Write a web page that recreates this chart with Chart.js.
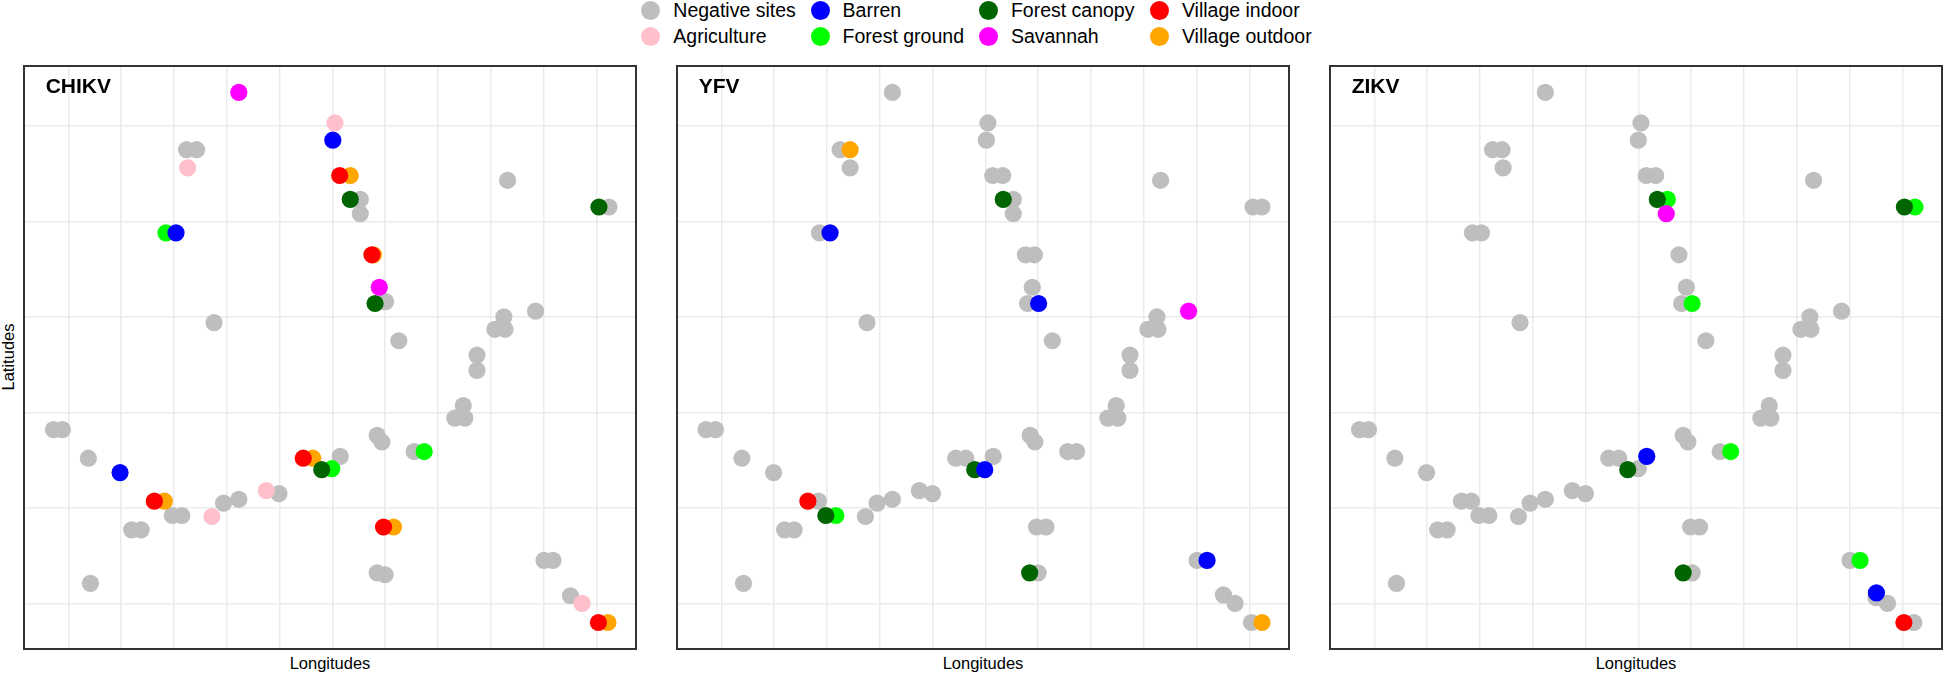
<!DOCTYPE html>
<html>
<head>
<meta charset="utf-8">
<script src="https://cdn.jsdelivr.net/npm/chart.js@4.4.1/dist/chart.umd.min.js"></script>
<style>
  html, body { margin: 0; padding: 0; background: #ffffff; }
  body { width: 1944px; height: 673px; position: relative; overflow: hidden;
         font-family: "Liberation Sans", Arial, Helvetica, sans-serif; color: #000; }
  .panel { position: absolute; box-sizing: border-box; border: 2px solid #333333; background: #fff; }
  .panel canvas { position: absolute; left: 0; top: 0; }
  .ptitle { position: absolute; font-weight: bold; font-size: 21px; line-height: 24px; color: #000; }
  .xtitle { position: absolute; font-size: 16.5px; line-height: 20px; text-align: center; width: 200px; }
  .ytitle { position: absolute; font-size: 16.5px; line-height: 20px; text-align: center; width: 200px;
            transform: rotate(-90deg); transform-origin: center center; }
  .lg-dot { position: absolute; width: 19px; height: 19px; border-radius: 50%; }
  .lg-txt { position: absolute; font-size: 19.5px; line-height: 24px; white-space: nowrap; }
</style>
</head>
<body>
<script>
// ---------------- DATA (grid units: longitude / latitude positions) ----------------
const panelNames = ["CHIKV", "YFV", "ZIKV"];
const categories = ["Negative sites", "Agriculture", "Barren", "Forest ground",
                    "Forest canopy", "Savannah", "Village indoor", "Village outdoor"];
const categoryColors = ["#BEBEBE", "#FFC0CB", "#0000FF", "#00FF00",
                        "#006400", "#FF00FF", "#FF0000", "#FFA500"];
const xGridValues = [0, 1, 2, 3, 4, 5, 6, 7, 8, 9, 10];
const yGridValues = [0, 1, 2, 3, 4, 5];

// CHIKV
const chikvNegative = [[2.24,4.75],[2.43,4.75],[5.53,4.23],[5.53,4.08],[8.32,4.43],[10.24,4.15],
  [6.01,3.16],[6.26,2.75],[2.76,2.94],[8.25,3.00],[8.08,2.87],[8.27,2.87],[8.85,3.06],
  [7.74,2.60],[7.74,2.44],[7.48,2.07],[7.32,1.94],[7.51,1.94],[5.85,1.76],[5.94,1.69],
  [6.55,1.59],[5.15,1.54],[-0.28,1.82],[-0.11,1.82],[0.38,1.52],[1.97,0.92],[2.15,0.92],
  [1.20,0.77],[1.38,0.77],[2.94,1.05],[3.23,1.09],[3.99,1.15],[0.42,0.21],[5.85,0.32],
  [6.00,0.30],[9.01,0.45],[9.18,0.45],[9.51,0.08]];
const chikvAgriculture = [[5.05,5.03],[2.26,4.56],[2.72,0.91],[3.75,1.18],[9.73,0.00]];
const chikvBarren = [[5.01,4.85],[2.04,3.88],[0.98,1.37]];
const chikvForestGround = [[1.85,3.88],[6.74,1.59],[4.99,1.41]];
const chikvForestCanopy = [[5.34,4.23],[10.05,4.15],[5.81,3.14],[4.80,1.40]];
const chikvSavannah = [[3.23,5.35],[5.89,3.31]];
const chikvVillageIndoor = [[5.14,4.48],[5.75,3.65],[4.45,1.52],[1.63,1.07],[5.97,0.80],[10.04,-0.20]];
const chikvVillageOutdoor = [[5.34,4.48],[5.78,3.65],[4.63,1.52],[1.82,1.07],[6.16,0.80],[10.22,-0.20]];

// YFV
const yfvNegative = [[3.24,5.35],[5.05,5.03],[5.02,4.85],[2.25,4.75],[2.44,4.56],[1.86,3.88],
  [5.14,4.48],[5.33,4.48],[5.53,4.23],[5.53,4.08],[5.76,3.65],[5.93,3.65],[5.89,3.31],
  [5.80,3.14],[6.27,2.75],[2.76,2.94],[8.32,4.43],[10.07,4.15],[10.24,4.15],[8.25,3.00],
  [8.08,2.87],[8.27,2.87],[7.74,2.60],[7.74,2.44],[7.48,2.07],[7.32,1.94],[7.51,1.94],
  [5.85,1.76],[5.94,1.69],[6.56,1.59],[6.73,1.59],[5.15,1.54],[-0.29,1.82],[-0.11,1.82],
  [0.39,1.52],[0.99,1.37],[1.84,1.07],[1.20,0.77],[1.38,0.77],[0.42,0.21],[2.73,0.91],
  [2.95,1.05],[3.24,1.09],[3.75,1.18],[4.00,1.15],[4.44,1.52],[4.63,1.52],[5.97,0.80],
  [6.15,0.80],[6.00,0.32],[9.01,0.45],[9.51,0.09],[9.73,0.00],[10.04,-0.20]];
const yfvAgriculture = [];
const yfvBarren = [[2.06,3.88],[6.01,3.14],[4.99,1.40],[9.20,0.45]];
const yfvForestGround = [[2.17,0.92]];
const yfvForestCanopy = [[5.34,4.23],[1.98,0.92],[4.80,1.40],[5.84,0.32]];
const yfvSavannah = [[8.85,3.06]];
const yfvVillageIndoor = [[1.64,1.07]];
const yfvVillageOutdoor = [[2.44,4.75],[10.24,-0.20]];

// ZIKV
const zikvNegative = [[3.24,5.35],[5.05,5.03],[5.00,4.85],[2.24,4.75],[2.42,4.75],[2.44,4.56],
  [1.86,3.88],[2.03,3.88],[2.76,2.94],[-0.28,1.82],[-0.11,1.82],[0.39,1.52],[0.99,1.37],
  [1.65,1.07],[1.84,1.07],[1.98,0.92],[2.17,0.92],[1.20,0.77],[1.38,0.77],[0.42,0.21],
  [2.73,0.91],[2.95,1.05],[3.24,1.09],[3.75,1.18],[4.00,1.15],[4.44,1.52],[4.63,1.52],
  [5.00,1.41],[5.15,4.48],[5.33,4.48],[8.32,4.43],[5.77,3.65],[5.91,3.31],[5.82,3.14],
  [6.28,2.75],[8.25,3.00],[8.08,2.87],[8.27,2.87],[8.85,3.06],[7.74,2.60],[7.74,2.44],
  [7.48,2.07],[7.32,1.94],[7.51,1.94],[5.85,1.76],[5.94,1.69],[6.55,1.59],[5.99,0.80],
  [6.16,0.80],[6.02,0.32],[9.01,0.45],[9.50,0.06],[9.72,0.00],[10.22,-0.20]];
const zikvAgriculture = [];
const zikvBarren = [[5.16,1.54],[9.51,0.11]];
const zikvForestGround = [[5.55,4.23],[10.24,4.15],[6.02,3.14],[6.75,1.59],[9.20,0.45]];
const zikvForestCanopy = [[5.36,4.23],[10.04,4.15],[4.80,1.40],[5.85,0.32]];
const zikvSavannah = [[5.53,4.08]];
const zikvVillageIndoor = [[10.03,-0.20]];
const zikvVillageOutdoor = [];

const panelSeries = [
  [chikvNegative, chikvAgriculture, chikvBarren, chikvForestGround, chikvForestCanopy, chikvSavannah, chikvVillageIndoor, chikvVillageOutdoor],
  [yfvNegative, yfvAgriculture, yfvBarren, yfvForestGround, yfvForestCanopy, yfvSavannah, yfvVillageIndoor, yfvVillageOutdoor],
  [zikvNegative, zikvAgriculture, zikvBarren, zikvForestGround, zikvForestCanopy, zikvSavannah, zikvVillageIndoor, zikvVillageOutdoor]
];

// ---------------- LAYOUT / STYLE ----------------
const X_MIN = -0.82, X_MAX = 10.733, Y_MIN = -0.467, Y_MAX = 5.616;
const PANEL_LEFT0 = 23, PANEL_STEP = 653, PANEL_TOP = 65, PANEL_W = 614, PANEL_H = 585, BORDER = 2;
// draw order: larger = further below
const drawOrder = [10, 9, 5, 7, 6, 3, 4, 8];
const legendColumns = [650.7, 820, 988.3, 1159.3];
const legendRows = [10, 36];
// legend in ggplot column-major order
const legendOrder = [0, 1, 2, 3, 4, 5, 6, 7];

// ---------------- LEGEND ----------------
legendOrder.forEach((ci, k) => {
  const col = Math.floor(k / 2), row = k % 2;
  const cx = legendColumns[col], cy = legendRows[row];
  const dot = document.createElement('div');
  dot.className = 'lg-dot';
  dot.style.left = (cx - 9.5) + 'px';
  dot.style.top = (cy - 9.5) + 'px';
  dot.style.background = categoryColors[ci];
  document.body.appendChild(dot);
  const t = document.createElement('div');
  t.className = 'lg-txt';
  t.style.left = (cx + 22.6) + 'px';
  t.style.top = (cy - 12) + 'px';
  t.textContent = categories[ci];
  document.body.appendChild(t);
});

// ---------------- Y TITLE ----------------
const yt = document.createElement('div');
yt.className = 'ytitle';
yt.textContent = 'Latitudes';
yt.style.left = (7.5 - 100) + 'px';
yt.style.top = (357 - 10) + 'px';
document.body.appendChild(yt);

// ---------------- PANELS ----------------
panelNames.forEach((name, p) => {
  const left = PANEL_LEFT0 + p * PANEL_STEP;
  const div = document.createElement('div');
  div.className = 'panel';
  div.style.left = left + 'px';
  div.style.top = PANEL_TOP + 'px';
  div.style.width = PANEL_W + 'px';
  div.style.height = PANEL_H + 'px';
  document.body.appendChild(div);

  const cw = PANEL_W - 2 * BORDER, ch = PANEL_H - 2 * BORDER;
  const canvas = document.createElement('canvas');
  canvas.width = cw; canvas.height = ch;
  canvas.style.width = cw + 'px'; canvas.style.height = ch + 'px';
  div.appendChild(canvas);

  const title = document.createElement('div');
  title.className = 'ptitle';
  title.textContent = name;
  title.style.left = (left + 22.7) + 'px';
  title.style.top = (86 - 12) + 'px';
  document.body.appendChild(title);

  const xt = document.createElement('div');
  xt.className = 'xtitle';
  xt.textContent = 'Longitudes';
  xt.style.left = (left + PANEL_W / 2 - 100) + 'px';
  xt.style.top = (663 - 10) + 'px';
  document.body.appendChild(xt);

  const datasets = categories.map((cat, ci) => ({
    label: cat,
    data: panelSeries[p][ci].map(([x, y]) => ({ x, y })),
    backgroundColor: categoryColors[ci],
    borderWidth: 0,
    pointRadius: 8.6,
    pointHoverRadius: 8.6,
    order: drawOrder[ci]
  }));

  new Chart(canvas, {
    type: 'scatter',
    data: { datasets },
    options: {
      responsive: false,
      animation: false,
      events: [],
      layout: { padding: 0, autoPadding: false },
      plugins: { legend: { display: false }, tooltip: { enabled: false } },
      scales: {
        x: {
          type: 'linear', min: X_MIN, max: X_MAX,
          ticks: { display: false },
          grid: { color: '#EBEBEB', lineWidth: 1.5, drawTicks: false },
          border: { display: false },
          afterBuildTicks: (s) => { s.ticks = xGridValues.map(v => ({ value: v })); }
        },
        y: {
          type: 'linear', min: Y_MIN, max: Y_MAX,
          ticks: { display: false },
          grid: { color: '#EBEBEB', lineWidth: 1.5, drawTicks: false },
          border: { display: false },
          afterBuildTicks: (s) => { s.ticks = yGridValues.map(v => ({ value: v })); }
        }
      }
    }
  });
});
</script>
</body>
</html>
